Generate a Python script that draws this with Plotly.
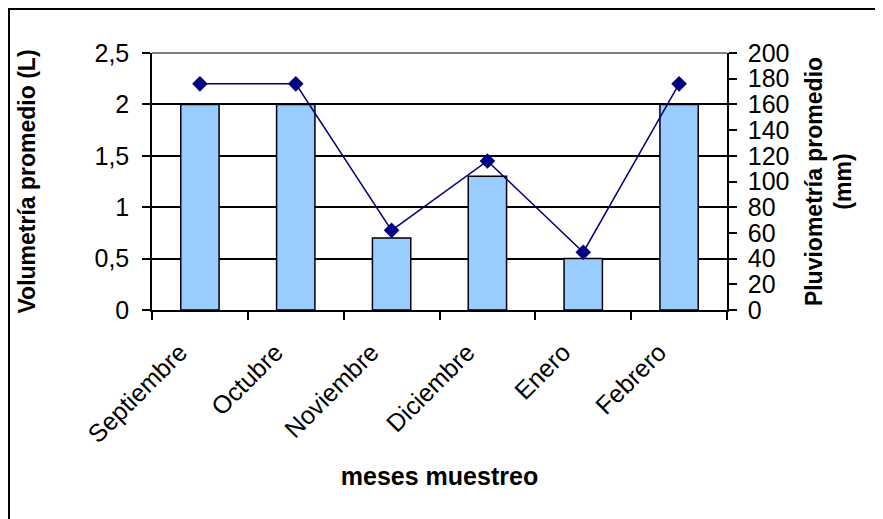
import plotly.graph_objects as go

meses = ["Septiembre", "Octubre", "Noviembre", "Diciembre", "Enero", "Febrero"]
volumetria = [2.0, 2.0, 0.7, 1.3, 0.5, 2.0]
pluviometria = [176, 176, 62, 116, 45, 176]

# page body has an 8px margin, compensate
OFF = 8
W, H = 883 - OFF, 519 - OFF
L, R, T, B = 152 - OFF, 727 - OFF, 53 - OFF, 310 - OFF

fig = go.Figure()
fig.add_trace(go.Bar(
    x=meses, y=volumetria, width=0.4,
    marker=dict(color="#99CCFF", line=dict(color="black", width=1.5)),
    yaxis="y", showlegend=False))
fig.add_trace(go.Scatter(
    x=meses, y=pluviometria, mode="lines+markers",
    line=dict(color="#000080", width=1.5),
    marker=dict(symbol="diamond", size=12, color="#000080"),
    yaxis="y2", showlegend=False))

font = "Liberation Sans, Arial, sans-serif"
FS = 25
fig.update_layout(
    width=W, height=H,
    margin=dict(l=L, r=W - R, t=T, b=H - B),
    paper_bgcolor="white", plot_bgcolor="white",
    separators=",.",
    font=dict(family=font, size=FS, color="black"),
    xaxis=dict(
        type="category", tickangle=-45, ticks="outside", ticklen=8,
        tickson="boundaries", tickcolor="black", tickwidth=1.5,
        showline=True, linecolor="black", linewidth=1.5,
        showgrid=False, range=[-0.5, 5.5],
        tickfont=dict(size=FS), ticklabelstandoff=16, ticklabelshift=-20,
        title=dict(text="<b>meses muestreo</b>", font=dict(size=25), standoff=20),
    ),
    yaxis=dict(
        range=[0, 2.5], dtick=0.5, tick0=0,
        ticks="outside", ticklen=8, tickcolor="black", tickwidth=1.5,
        showline=True, linecolor="black", linewidth=1.5,
        showgrid=True, gridcolor="black", gridwidth=1.5,
        zeroline=False, tickfont=dict(size=FS), ticklabelstandoff=8,
        title=dict(text="<b>Volumetría promedio (L)</b>", font=dict(size=23), standoff=52),
    ),
    yaxis2=dict(
        range=[0, 200], dtick=20, tick0=0, overlaying="y", side="right",
        ticks="outside", ticklen=8, tickcolor="black", tickwidth=1.5,
        showline=True, linecolor="black", linewidth=1.5,
        showgrid=False, zeroline=False, tickfont=dict(size=FS), ticklabelstandoff=6,
        title=dict(text="<b>Pluviometría promedio<br>(mm)</b>", font=dict(size=23), standoff=17),
    ),
)

pw = R - L
ph = B - T
def px_x(p): return (p - L) / pw
def px_y(p): return (B - p) / ph

shapes = [
    dict(type="line", xref="paper", yref="paper", x0=0, x1=1, y0=1, y1=1,
         line=dict(color="#808080", width=2)),
    dict(type="line", xref="paper", yref="paper", x0=px_x(0), x1=px_x(W), y0=px_y(0.5), y1=px_y(0.5),
         line=dict(color="black", width=3)),
    dict(type="line", xref="paper", yref="paper", x0=px_x(0.5), x1=px_x(0.5), y0=px_y(0), y1=px_y(H),
         line=dict(color="black", width=3)),
]
fig.update_layout(shapes=shapes)

fig.write_html("out.html")
